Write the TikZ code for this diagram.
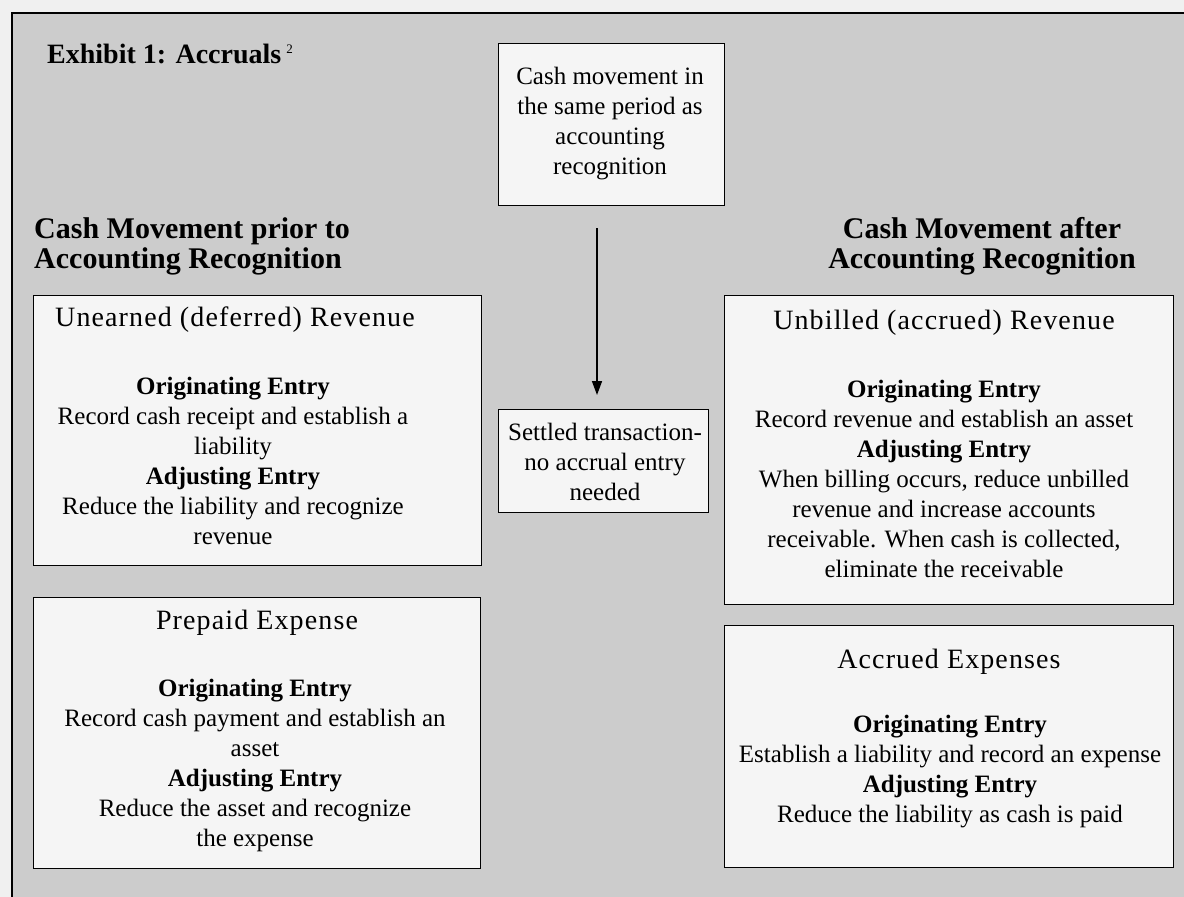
\documentclass[tikz,border=0pt]{standalone}
\usepackage{fontspec}
\setmainfont{Liberation Serif}
\newfontfamily\ttlfont[LetterSpace=4]{Liberation Serif}
\usetikzlibrary{arrows.meta}
\begin{document}
\begin{tikzpicture}[x=1pt,y=-1pt,
  box/.style={draw=black,line width=1pt,fill=black!4,anchor=north west,inner sep=0pt},
  body/.style={align=center,font=\fontsize{25}{30}\selectfont,inner sep=0pt},
  ttl/.style={font=\ttlfont\fontsize{28}{30}\selectfont,inner sep=0pt},
  hdr/.style={font=\bfseries\fontsize{30}{30}\selectfont,inner sep=0pt},
  arr/.style={line width=1.5pt,-{Triangle[length=14pt,width=10pt]}}]
\useasboundingbox (0,0) rectangle (1184,897);
\clip (0,0) rectangle (1184,897);
\fill[black!6] (0,0) rectangle (1184,897);
\draw[line width=1.5pt,fill=black!20] (12,13) rectangle (1200,920);

% title
\node[anchor=base west,inner sep=0pt,font=\bfseries\fontsize{28}{30}\selectfont] (title) at (47,63)
  {Exhibit 1: Accruals\hspace{5pt}\raisebox{10pt}{\mdseries\fontsize{13}{13}\selectfont 2}};

% headers
\node[hdr,anchor=north west,align=left] (hl) at (34,217) {Cash Movement prior to\\Accounting Recognition};
\node[hdr,anchor=north,align=center] (hr) at (982,217) {Cash Movement after\\Accounting Recognition};

% centre boxes
\node[box,minimum width=226pt,minimum height=162pt] (tb) at (498,43) {};
\node[body] (tbt) at (610,124) {Cash movement in\\the same period as\\accounting\\recognition};
\node[box,minimum width=210pt,minimum height=103pt] (st) at (498,409) {};
\node[body] (stt) at (605,462) {Settled transaction-\\no accrual entry\\needed};
\coordinate (ax) at (597,0);
\draw[arr,shorten <=22pt,shorten >=14pt] (tb.south -| ax) -- (st.north -| ax);

% left boxes
\node[box,minimum width=448pt,minimum height=270pt] (ub) at (33,295) {};
\node[ttl] (ubh) at (235,320) {Unearned (deferred) Revenue};
\node[body] (ubt) at (233,461) {\textbf{Originating Entry}\\Record cash receipt and establish a\\liability\\\textbf{Adjusting Entry}\\Reduce the liability and recognize\\revenue};

\node[box,minimum width=447pt,minimum height=271pt] (pe) at (33,597) {};
\node[ttl] (peh) at (257,623) {Prepaid Expense};
\node[body] (pet) at (255,765) {\textbf{Originating Entry}\\Record cash payment and establish an\\asset\\\textbf{Adjusting Entry}\\Reduce the asset and recognize\\the expense};

% right boxes
\node[box,minimum width=449pt,minimum height=309pt] (br) at (724,295) {};
\node[ttl] (brh) at (944,323) {Unbilled (accrued) Revenue};
\node[body] (brt) at (944,479) {\textbf{Originating Entry}\\Record revenue and establish an asset\\\textbf{Adjusting Entry}\\When billing occurs, reduce unbilled\\revenue and increase accounts\\receivable. When cash is collected,\\eliminate the receivable};

\node[box,minimum width=449pt,minimum height=242pt] (ae) at (724,625) {};
\node[ttl] (aeh) at (949,662) {Accrued Expenses};
\node[body] (aet) at (950,772) {\textbf{Originating Entry}\\Establish a liability and record an expense\\\textbf{Adjusting Entry}\\Reduce the liability as cash is paid};
\end{tikzpicture}
\end{document}
